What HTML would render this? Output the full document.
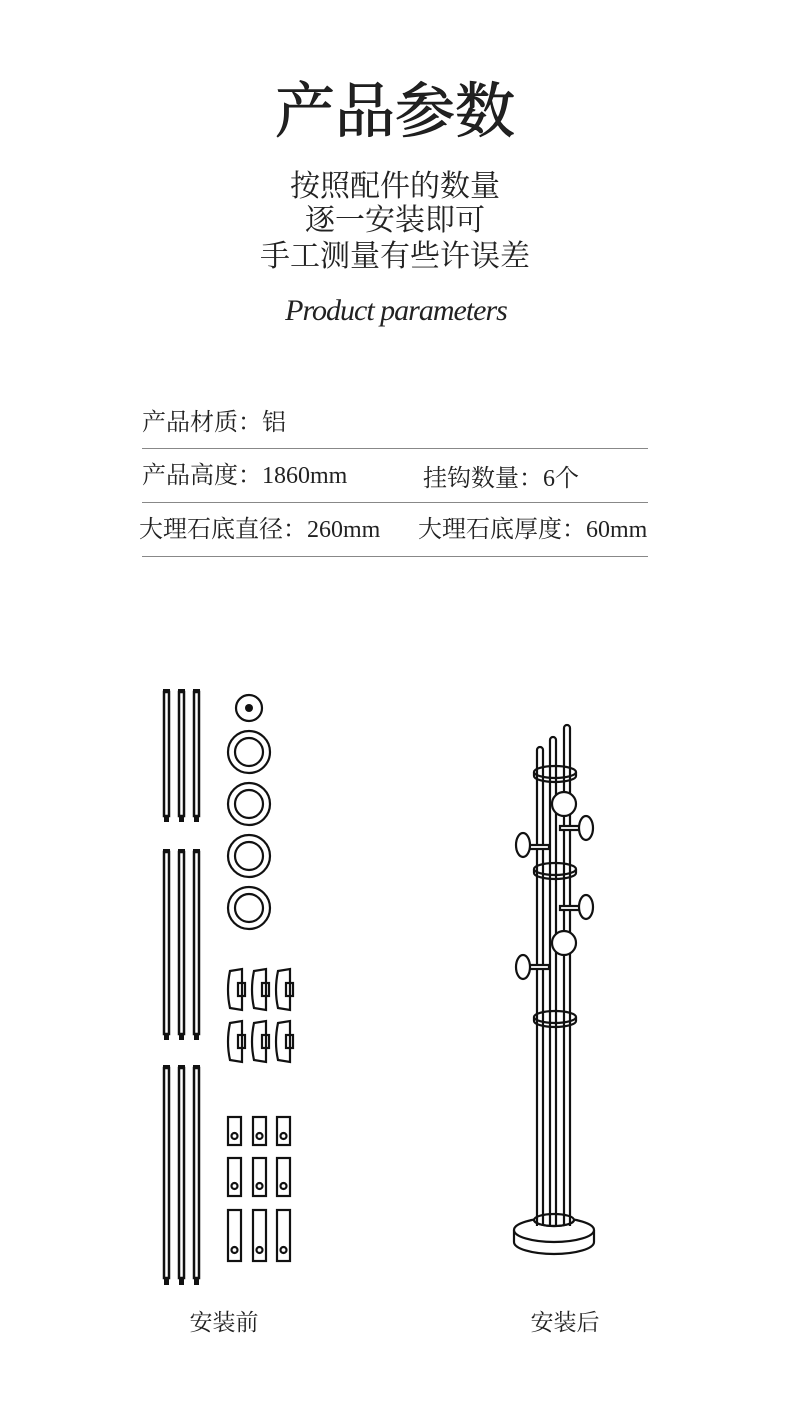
<!DOCTYPE html>
<html><head><meta charset="utf-8"><style>
body{margin:0;background:#fff;}
svg text{font-family:"Liberation Serif","Noto Serif CJK SC",serif;fill:#222;}
</style></head><body>
<svg width="790" height="1415" viewBox="0 0 790 1415" xmlns="http://www.w3.org/2000/svg">
<text x="395" y="132" font-size="60" text-anchor="middle" fill="#1c1c1c" stroke="#1c1c1c" stroke-width="1">产品参数</text>
<text x="395" y="196" font-size="30" text-anchor="middle">按照配件的数量</text>
<text x="395" y="230" font-size="30" text-anchor="middle">逐一安装即可</text>
<text x="395" y="266" font-size="30" text-anchor="middle">手工测量有些许误差</text>
<text x="396" y="320" font-size="30" font-style="italic" text-anchor="middle" letter-spacing="-1">Product parameters</text>
<g font-size="24">
<text x="142" y="430">产品材质：铝</text>
<text x="142" y="483">产品高度：1860mm</text>
<text x="423" y="486">挂钩数量：6个</text>
<text x="139" y="537">大理石底直径：260mm</text>
<text x="418" y="537">大理石底厚度：60mm</text>
</g>
<g stroke="#888" stroke-width="1">
<line x1="142" y1="448.5" x2="648" y2="448.5"/>
<line x1="142" y1="502.5" x2="648" y2="502.5"/>
<line x1="142" y1="556.5" x2="648" y2="556.5"/>
</g>
<g fill="none" stroke="#111" stroke-width="2.5">
<rect x="164" y="692" width="5" height="124"/><rect x="179" y="692" width="5" height="124"/><rect x="194" y="692" width="5" height="124"/>
<rect x="164" y="852" width="5" height="182"/><rect x="179" y="852" width="5" height="182"/><rect x="194" y="852" width="5" height="182"/>
<rect x="164" y="1068" width="5" height="210"/><rect x="179" y="1068" width="5" height="210"/><rect x="194" y="1068" width="5" height="210"/>
</g>
<g fill="#111">
<rect x="163" y="689" width="7" height="3"/><rect x="178" y="689" width="7" height="3"/><rect x="193" y="689" width="7" height="3"/>
<rect x="164" y="816" width="5" height="6"/><rect x="179" y="816" width="5" height="6"/><rect x="194" y="816" width="5" height="6"/>
<rect x="163" y="849" width="7" height="3"/><rect x="178" y="849" width="7" height="3"/><rect x="193" y="849" width="7" height="3"/>
<rect x="164" y="1034" width="5" height="6"/><rect x="179" y="1034" width="5" height="6"/><rect x="194" y="1034" width="5" height="6"/>
<rect x="163" y="1065" width="7" height="3"/><rect x="178" y="1065" width="7" height="3"/><rect x="193" y="1065" width="7" height="3"/>
<rect x="164" y="1278" width="5" height="7"/><rect x="179" y="1278" width="5" height="7"/><rect x="194" y="1278" width="5" height="7"/>
<circle cx="249" cy="708" r="4"/>
</g>
<g fill="none" stroke="#111" stroke-width="2.2">
<circle cx="249" cy="708" r="13"/>
<circle cx="249" cy="752" r="21"/><circle cx="249" cy="752" r="14"/>
<circle cx="249" cy="804" r="21"/><circle cx="249" cy="804" r="14"/>
<circle cx="249" cy="856" r="21"/><circle cx="249" cy="856" r="14"/>
<circle cx="249" cy="908" r="21"/><circle cx="249" cy="908" r="14"/>
<g id="b"><path d="M230 971 L242 969 L242 1010 L230 1008 Q226 990 230 971 Z"/><rect x="238" y="983" width="7" height="13"/></g>
<use href="#b" x="24"/><use href="#b" x="48"/>
<use href="#b" y="52"/><use href="#b" x="24" y="52"/><use href="#b" x="48" y="52"/>
<rect x="228" y="1117" width="13" height="28"/><rect x="253" y="1117" width="13" height="28"/><rect x="277" y="1117" width="13" height="28"/>
<rect x="228" y="1158" width="13" height="38"/><rect x="253" y="1158" width="13" height="38"/><rect x="277" y="1158" width="13" height="38"/>
<rect x="228" y="1210" width="13" height="51"/><rect x="253" y="1210" width="13" height="51"/><rect x="277" y="1210" width="13" height="51"/>
<circle cx="234.5" cy="1136" r="3"/><circle cx="259.5" cy="1136" r="3"/><circle cx="283.5" cy="1136" r="3"/>
<circle cx="234.5" cy="1186" r="3"/><circle cx="259.5" cy="1186" r="3"/><circle cx="283.5" cy="1186" r="3"/>
<circle cx="234.5" cy="1250" r="3"/><circle cx="259.5" cy="1250" r="3"/><circle cx="283.5" cy="1250" r="3"/>
</g>
<g fill="#fff" stroke="#111" stroke-width="2.2">
<path d="M514 1230 L514 1242 A40 12 0 0 0 594 1242 L594 1230"/>
<ellipse cx="554" cy="1230" rx="40" ry="12"/>
<ellipse cx="554" cy="1220" rx="20" ry="6"/>
<path d="M537 1226 V750 A3 3 0 0 1 543 750 V1226 M550 1226 V740 A3 3 0 0 1 556 740 V1226 M564 1226 V728 A3 3 0 0 1 570 728 V1226" fill="none"/>
<path d="M534 1220 A20 6 0 0 0 574 1220" fill="none"/>
<g fill="none">
<ellipse cx="555" cy="772" rx="21" ry="6"/><path d="M534 772 V776 A21 6 0 0 0 576 776 V772"/>
<ellipse cx="555" cy="869" rx="21" ry="6"/><path d="M534 869 V873 A21 6 0 0 0 576 873 V869"/>
<ellipse cx="555" cy="1017" rx="21" ry="6"/><path d="M534 1017 V1021 A21 6 0 0 0 576 1021 V1017"/>
</g>
<rect x="560" y="826" width="26" height="4"/><ellipse cx="586" cy="828" rx="7" ry="12"/>
<rect x="528" y="845" width="21" height="4"/><ellipse cx="523" cy="845" rx="7" ry="12"/>
<rect x="560" y="906" width="26" height="4"/><ellipse cx="586" cy="907" rx="7" ry="12"/>
<rect x="528" y="965" width="21" height="4"/><ellipse cx="523" cy="967" rx="7" ry="12"/>
<circle cx="564" cy="804" r="12"/>
<circle cx="564" cy="943" r="12"/>
</g>
<text x="224" y="1330" font-size="23" text-anchor="middle">安装前</text>
<text x="565" y="1330" font-size="23" text-anchor="middle">安装后</text>
</svg>
</body></html>
